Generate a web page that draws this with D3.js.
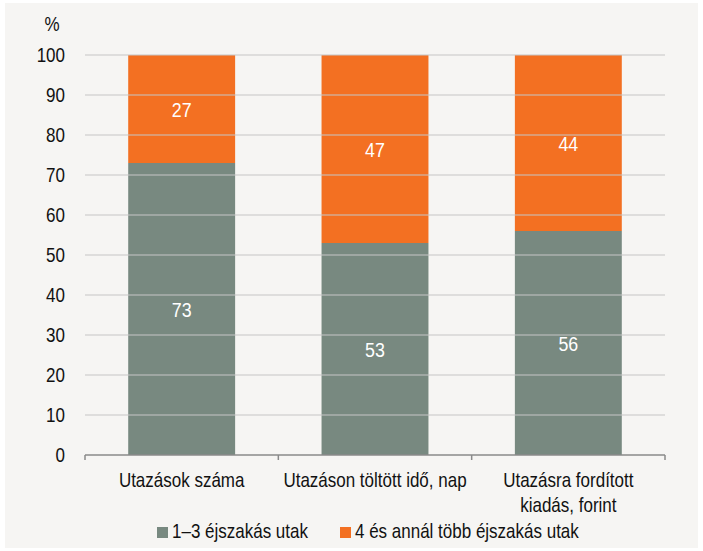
<!DOCTYPE html>
<html>
<head>
<meta charset="utf-8">
<script src="https://cdn.jsdelivr.net/npm/d3@7"></script>
<style>
  body { margin: 0; background: #fff; }
  text { font-family: "Liberation Sans", Arial, sans-serif; }
</style>
</head>
<body>
<svg width="703" height="551"></svg>
<script>
// data
const categories = [["Utazások száma"], ["Utazáson töltött idő, nap"], ["Utazásra fordított", "kiadás, forint"]];
const shortTrips = [73, 53, 56];
const longTrips = [27, 47, 44];
const seriesNames = ["1–3 éjszakás utak", "4 és annál több éjszakás utak"];
const yTicks = [0, 10, 20, 30, 40, 50, 60, 70, 80, 90, 100];

const colors = ["#788980", "#f37022"];
const sx = 0.85; // horizontal squeeze to mimic a narrow font

const svg = d3.select("svg"),
    width = +svg.attr("width"),
    height = +svg.attr("height");

// panel background
svg.append("rect")
    .attr("x", 5).attr("y", 3)
    .attr("width", width - 10).attr("height", height - 6)
    .attr("fill", "#f6f5f3");

const margin = {left: 85, right: 38, top: 55, bottom: 96};

const x = d3.scaleBand()
    .domain(d3.range(categories.length))
    .range([margin.left, width - margin.right])
    .paddingInner(0.447)
    .paddingOuter(0.2235);

const y = d3.scaleLinear()
    .domain([0, 100])
    .range([height - margin.bottom, margin.top]);

// gridlines
svg.append("g")
    .selectAll("line")
    .data(yTicks.filter(d => d > 0))
    .join("line")
    .attr("x1", margin.left).attr("x2", width - margin.right)
    .attr("y1", d => y(d)).attr("y2", d => y(d))
    .attr("stroke", "#c6c6c6")
    .attr("stroke-width", 1.2);

// text layer, squeezed horizontally
const txt = svg.append("g").attr("transform", `scale(${sx},1)`);

// y tick labels
txt.append("g")
    .selectAll("text")
    .data(yTicks)
    .join("text")
    .attr("x", 65 / sx)
    .attr("y", d => y(d) + 7)
    .attr("text-anchor", "end")
    .attr("font-size", 20)
    .attr("fill", "#111")
    .text(d => d);

txt.append("text")
    .attr("x", 52 / sx).attr("y", 31)
    .attr("text-anchor", "middle")
    .attr("font-size", 20)
    .attr("fill", "#111")
    .text("%");

// stacked bars
const stacked = categories.map((c, i) => [
    {i, y0: 0, y1: shortTrips[i], v: shortTrips[i], s: 0},
    {i, y0: shortTrips[i], y1: shortTrips[i] + longTrips[i], v: longTrips[i], s: 1}
]).flat();

svg.insert("g", "g")
    .selectAll("rect")
    .data(stacked)
    .join("rect")
    .attr("x", d => x(d.i))
    .attr("width", x.bandwidth())
    .attr("y", d => y(d.y1))
    .attr("height", d => y(d.y0) - y(d.y1))
    .attr("fill", d => colors[d.s]);

txt.append("g")
    .selectAll("text")
    .data(stacked)
    .join("text")
    .attr("x", d => (x(d.i) + x.bandwidth() / 2) / sx)
    .attr("y", d => (y(d.y0) + y(d.y1)) / 2 + 8)
    .attr("text-anchor", "middle")
    .attr("font-size", 21)
    .attr("fill", "#fff")
    .text(d => d.v);

// x axis
const x0 = margin.left, x1 = width - margin.right, step = (x1 - x0) / categories.length;
const axis = svg.append("g").attr("stroke", "#8a8a8a").attr("stroke-width", 1.5);
axis.append("line")
    .attr("x1", x0).attr("x2", x1)
    .attr("y1", y(0)).attr("y2", y(0));
axis.selectAll("line.tick")
    .data(d3.range(categories.length + 1))
    .join("line")
    .attr("class", "tick")
    .attr("x1", d => x0 + d * step).attr("x2", d => x0 + d * step)
    .attr("y1", y(0)).attr("y2", y(0) + 5);

// category labels
txt.append("g")
    .selectAll("text")
    .data(categories)
    .join("text")
    .attr("x", (d, i) => (x(i) + x.bandwidth() / 2) / sx)
    .attr("y", 487)
    .attr("text-anchor", "middle")
    .attr("font-size", 20)
    .attr("fill", "#111")
    .selectAll("tspan")
    .data(d => d)
    .join("tspan")
    .attr("x", function () { return d3.select(this.parentNode).attr("x"); })
    .attr("dy", (d, j) => j === 0 ? 0 : 25)
    .text(d => d);

// legend
const legendX = [157, 340];
svg.append("g")
    .selectAll("rect")
    .data(seriesNames)
    .join("rect")
    .attr("x", (d, i) => legendX[i])
    .attr("y", 527)
    .attr("width", 11).attr("height", 11)
    .attr("fill", (d, i) => colors[i]);
txt.append("g")
    .selectAll("text")
    .data(seriesNames)
    .join("text")
    .attr("x", (d, i) => (legendX[i] + 15) / sx)
    .attr("y", 538)
    .attr("font-size", 20)
    .attr("fill", "#111")
    .text(d => d);
</script>
</body>
</html>
